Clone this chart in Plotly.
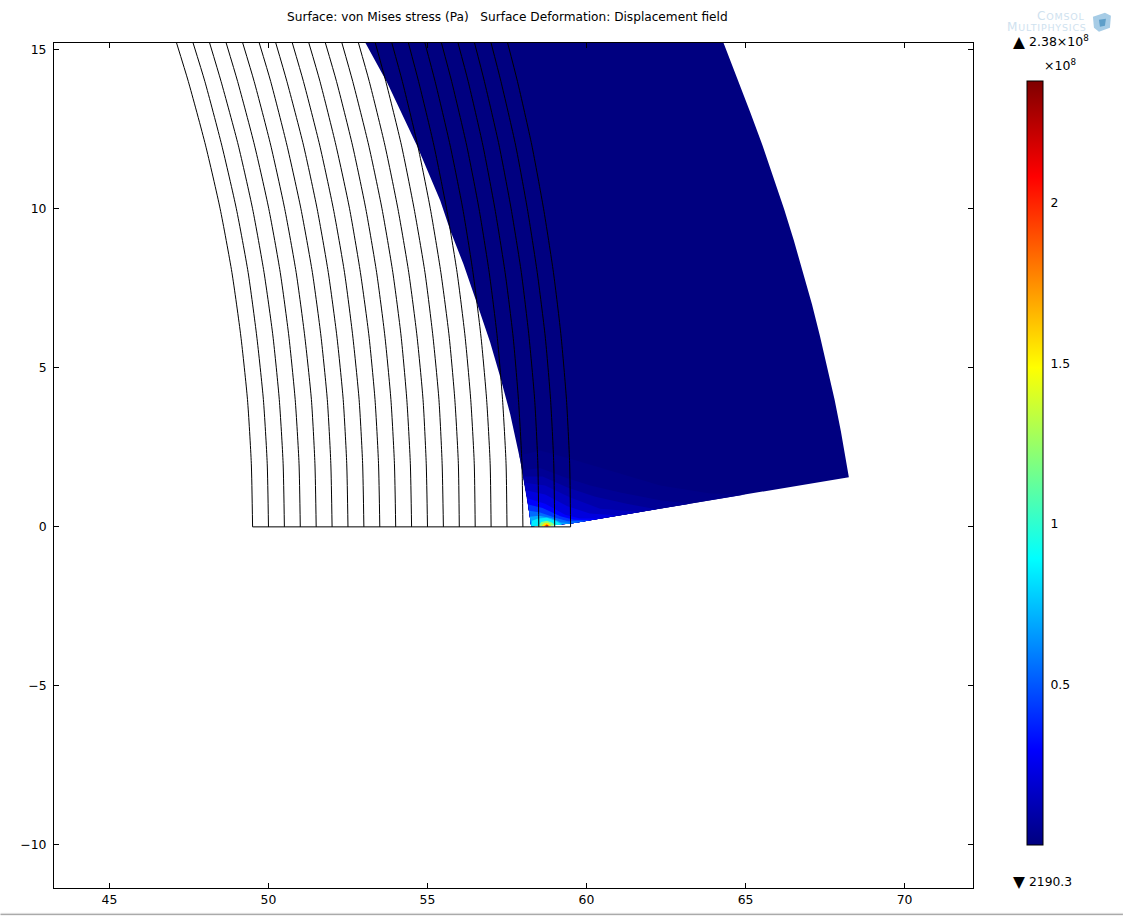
import plotly.graph_objects as go
from plotly.colors import sample_colorscale

# ---------- data ----------
title_text = "Surface: von Mises stress (Pa)\u00a0\u00a0 Surface Deformation: Displacement field"
x_ticks = [45, 50, 55, 60, 65, 70]
y_ticks = [-10, -5, 0, 5, 10, 15]
stress_min = 2190.3
stress_max = 2.38e8
cbar_ticks = [0.5e8, 1e8, 1.5e8, 2e8]
cbar_labels = ["0.5", "1", "1.5", "2"]

# undeformed geometry: one start value per arc, then x at each height
arc_y = [0, 2, 4, 6, 8, 10, 12, 14, 15.21]
arc_x = [
    [49.5, 49.46, 49.34, 49.13, 48.85, 48.48, 48.02, 47.48, 47.11],
    [50.0, 49.96, 49.84, 49.63, 49.36, 48.99, 48.53, 48.00, 47.63],
    [50.5, 50.46, 50.34, 50.14, 49.86, 49.50, 49.05, 48.51, 48.15],
    [51.0, 50.96, 50.84, 50.64, 50.37, 50.01, 49.56, 49.03, 48.67],
    [51.5, 51.46, 51.35, 51.14, 50.87, 50.51, 50.07, 49.55, 49.19],
    [52.0, 51.96, 51.85, 51.65, 51.38, 51.02, 50.58, 50.07, 49.71],
    [52.5, 52.46, 52.35, 52.15, 51.88, 51.53, 51.10, 50.58, 50.23],
    [53.0, 52.96, 52.85, 52.65, 52.39, 52.04, 51.61, 51.10, 50.75],
    [53.5, 53.46, 53.35, 53.16, 52.89, 52.55, 52.12, 51.62, 51.27],
    [54.0, 53.96, 53.85, 53.66, 53.40, 53.06, 52.64, 52.14, 51.79],
    [54.5, 54.46, 54.35, 54.17, 53.91, 53.57, 53.15, 52.65, 52.31],
    [55.0, 54.96, 54.86, 54.67, 54.41, 54.07, 53.66, 53.17, 52.83],
    [55.5, 55.46, 55.36, 55.17, 54.92, 54.58, 54.18, 53.69, 53.36],
    [56.0, 55.97, 55.86, 55.68, 55.42, 55.09, 54.69, 54.21, 53.88],
    [56.5, 56.47, 56.36, 56.18, 55.93, 55.60, 55.20, 54.72, 54.40],
    [57.0, 56.97, 56.86, 56.68, 56.43, 56.11, 55.71, 55.24, 54.92],
    [57.5, 57.47, 57.36, 57.19, 56.94, 56.62, 56.23, 55.76, 55.44],
    [58.0, 57.97, 57.86, 57.69, 57.44, 57.12, 56.74, 56.28, 55.96],
    [58.5, 58.47, 58.37, 58.19, 57.95, 57.63, 57.25, 56.79, 56.48],
    [59.0, 58.97, 58.87, 58.70, 58.45, 58.14, 57.77, 57.31, 57.00],
    [59.5, 59.47, 59.37, 59.20, 58.96, 58.65, 58.28, 57.83, 57.52],
]
base_x = [49.5, 59.5]
base_y = [0, 0]

# deformed outline
shape_x = [53.05, 53.73, 54.67, 55.40, 55.72, 56.13, 56.56, 56.97, 57.29, 57.60, 57.92, 58.13, 58.23, 58.26,
           59.47, 68.25, 68.09, 68.00, 67.80, 67.58, 67.34, 67.09, 66.81, 66.52, 66.21, 65.88, 65.53, 65.16, 64.77, 64.31]
shape_y = [15.21, 13.97, 11.98, 10.26, 9.31, 8.26, 7.01, 5.80, 4.70, 3.55, 2.08, 0.93, 0.26, 0.02,
           0.10, 1.56, 2.5, 3, 4, 5, 6, 7, 8, 9, 10, 11, 12, 13, 14, 15.21]
shape_stress = 0.003e8

# stress bands at the contact spot, outermost first
band_stress = [0.02e8, 0.05e8, 0.10e8, 0.15e8, 0.22e8, 0.30e8, 0.42e8, 0.55e8, 0.70e8, 0.85e8,
               1.20e8, 1.55e8, 1.90e8, 2.20e8]
band_x = [
    [57.89, 58.54, 59.49, 60.74, 62.32, 63.89, 65.00, 59.47, 58.26, 58.13],
    [57.98, 58.54, 59.33, 60.12, 61.06, 62.32, 63.26, 59.47, 58.26, 58.13],
    [58.01, 58.62, 59.42, 60.28, 61.30, 62.20, 59.47, 58.26, 58.13],
    [58.05, 58.70, 59.49, 60.43, 61.69, 59.47, 58.26, 58.13],
    [58.09, 58.70, 59.40, 60.10, 61.00, 59.47, 58.26, 58.13],
    [58.14, 58.70, 59.33, 59.80, 60.43, 59.47, 58.26],
    [58.17, 58.62, 59.18, 59.60, 60.15, 59.47, 58.26],
    [58.20, 58.54, 59.02, 59.42, 59.96, 59.47, 58.26],
    [58.22, 58.50, 58.90, 59.20, 59.55, 58.26],
    [58.29, 58.48, 58.76, 59.02, 59.24, 58.27],
    [58.48, 58.58, 58.76, 58.92, 59.02],
    [58.58, 58.67, 58.80, 58.89],
    [58.66, 58.75, 58.84],
    [58.71, 58.76, 58.80],
]
band_y = [
    [2.24, 2.40, 2.14, 1.77, 1.30, 1.05, 1.02, 0.10, 0.02, 0.93],
    [1.77, 1.85, 1.55, 1.30, 1.08, 0.84, 0.73, 0.10, 0.02, 0.93],
    [1.58, 1.58, 1.23, 0.95, 0.72, 0.554, 0.10, 0.02, 0.93],
    [1.39, 1.30, 0.92, 0.57, 0.47, 0.10, 0.02, 0.93],
    [1.15, 1.02, 0.65, 0.42, 0.36, 0.10, 0.02, 0.93],
    [0.90, 0.73, 0.38, 0.26, 0.26, 0.10, 0.02],
    [0.70, 0.59, 0.33, 0.22, 0.21, 0.10, 0.02],
    [0.51, 0.45, 0.29, 0.18, 0.18, 0.10, 0.02],
    [0.32, 0.35, 0.28, 0.14, 0.11, 0.02],
    [0.19, 0.26, 0.29, 0.19, 0.07, 0.02],
    [0.02, 0.15, 0.19, 0.13, 0.04],
    [0.02, 0.12, 0.13, 0.03],
    [0.02, 0.08, 0.02],
    [0.02, 0.05, 0.02],
]
extreme_x = [58.76, 65.0]
extreme_y = [0.03, 10.0]
extreme_stress = [stress_max, stress_min]

rainbow = [[0, "#00007f"], [0.125, "#0000ff"], [0.375, "#00ffff"],
           [0.625, "#ffff00"], [0.875, "#ff0000"], [1, "#7f0000"]]

# ---------- layout helpers (page pixels -> paper) ----------
W, H = 1123, 916
L, R, T, B = 53.5, 973.0, 43.3, 888.3
xp = lambda px: (px - L) / (R - L)
yp = lambda py: (B - py) / (B - T)
FONT = "DejaVu Sans"


def stress_colour(v):
    return sample_colorscale(rainbow, [(v - stress_min) / (stress_max - stress_min)], colortype="rgb")[0]


fig = go.Figure()
fig.add_trace(go.Scatter(x=shape_x, y=shape_y, mode="lines", fill="toself", line=dict(width=0),
                         fillcolor=stress_colour(shape_stress), hoverinfo="skip", showlegend=False))
for v, bx, by in zip(band_stress, band_x, band_y):
    fig.add_trace(go.Scatter(x=bx, y=by, mode="lines", fill="toself", line=dict(width=0),
                             fillcolor=stress_colour(v), hoverinfo="skip", showlegend=False))
for ax in arc_x:
    fig.add_trace(go.Scatter(x=ax, y=arc_y, mode="lines", line=dict(color="black", width=1, shape="spline", smoothing=0.6),
                             hoverinfo="skip", showlegend=False))
fig.add_trace(go.Scatter(x=base_x, y=base_y, mode="lines", line=dict(color="black", width=1),
                         hoverinfo="skip", showlegend=False))
fig.add_trace(go.Scatter(
    x=extreme_x, y=extreme_y, mode="markers", hoverinfo="skip", showlegend=False,
    marker=dict(size=0.5, color=extreme_stress, cmin=stress_min, cmax=stress_max, colorscale=rainbow, showscale=True,
                colorbar=dict(x=xp(1027), xanchor="left", y=yp(81), yanchor="top",
                              lenmode="pixels", len=764, thicknessmode="pixels", thickness=16, xpad=0, ypad=0,
                              outlinecolor="black", outlinewidth=1, borderwidth=0,
                              tickmode="array", tickvals=cbar_ticks, ticktext=cbar_labels,
                              ticks="outside", ticklen=5, tickcolor="rgba(0,0,0,0)", tickwidth=1,
                              tickfont=dict(family=FONT, size=12.4, color="black")))))

annots = [
    dict(text=title_text, x=xp(507), y=yp(17), xanchor="center", size=12.15),
    dict(text="\u25b2", x=xp(1011), y=yp(42), xanchor="left", size=15.5),
    dict(text="2.38\u00d710<sup>8</sup>", x=xp(1027), y=yp(41), xanchor="left", size=12.5),
    dict(text="\u00d710<sup>8</sup>", x=xp(1042), y=yp(65), xanchor="left", size=12.5),
    dict(text="\u25bc", x=xp(1011), y=yp(882), xanchor="left", size=15.5),
    dict(text="2190.3", x=xp(1027), y=yp(882), xanchor="left", size=12.3),
    dict(text="<span style='letter-spacing:0.8px'><span style='font-size:12px'>C</span>OMSOL</span>",
         x=xp(1087), y=yp(16), xanchor="right", size=9.5, color="#cfe2ef"),
    dict(text="<span style='letter-spacing:0.8px'><span style='font-size:12px'>M</span>ULTIPHYSICS</span>",
         x=xp(1089), y=yp(27), xanchor="right", size=9.5, color="#cfe2ef"),
]
for a in annots:
    fig.add_annotation(text=a["text"], x=a["x"], y=a["y"], xref="paper", yref="paper", xanchor=a["xanchor"],
                       yanchor="middle", showarrow=False,
                       font=dict(family=FONT, size=a["size"], color=a.get("color", "black")))

paper = dict(xref="paper", yref="paper")
shapes = [
    # window edge below the chart
    dict(type="rect", x0=xp(0), x1=xp(W), y0=yp(916), y1=yp(913), fillcolor="#eeeeee", line_width=0, **paper),
    dict(type="line", x0=xp(0), x1=xp(W), y0=yp(914.7), y1=yp(914.7), line=dict(color="#aaaaaa", width=1.4), **paper),
    # logo cube
    dict(type="path", path=f"M {xp(1093)} {yp(17)} L {xp(1105)} {yp(13)} L {xp(1111)} {yp(16)} L {xp(1110)} {yp(28)} "
                           f"L {xp(1099)} {yp(32)} L {xp(1094)} {yp(28)} Z", fillcolor="#a6cce6", line_width=0, **paper),
    dict(type="path", path=f"M {xp(1099)} {yp(20)} L {xp(1106)} {yp(19)} L {xp(1105)} {yp(26)} L {xp(1100)} {yp(27)} Z",
         fillcolor="#5f9fc9", line_width=0, **paper),
]
# tick marks on both sides of the colour bar
for v in cbar_ticks:
    py = 845 - (v / stress_max) * 764
    shapes.append(dict(type="line", x0=xp(1027), x1=xp(1031), y0=yp(py), y1=yp(py), line=dict(color="black", width=1), **paper))
    shapes.append(dict(type="line", x0=xp(1039), x1=xp(1043), y0=yp(py), y1=yp(py), line=dict(color="black", width=1), **paper))

axis = dict(showgrid=False, zeroline=False, showline=True, linecolor="black", linewidth=1, mirror="ticks",
            ticks="inside", ticklen=5, tickcolor="black", tickwidth=1,
            tickfont=dict(family=FONT, size=12.4, color="black"))
fig.update_layout(
    width=W, height=H, autosize=False, paper_bgcolor="white", plot_bgcolor="white", showlegend=False,
    margin=dict(l=L, r=W - R, t=T, b=H - B, pad=0, autoexpand=False),
    xaxis=dict(axis, range=[43.256, 72.153], tickmode="array", tickvals=x_ticks, ticklabelstandoff=0),
    yaxis=dict(axis, range=[-11.352, 15.21], tickmode="array", tickvals=y_ticks, ticklabelstandoff=4),
    shapes=shapes,
)
fig.write_html("out.html", config={"displayModeBar": False},
               post_script="document.body.style.margin='0';document.body.style.overflow='hidden';")
